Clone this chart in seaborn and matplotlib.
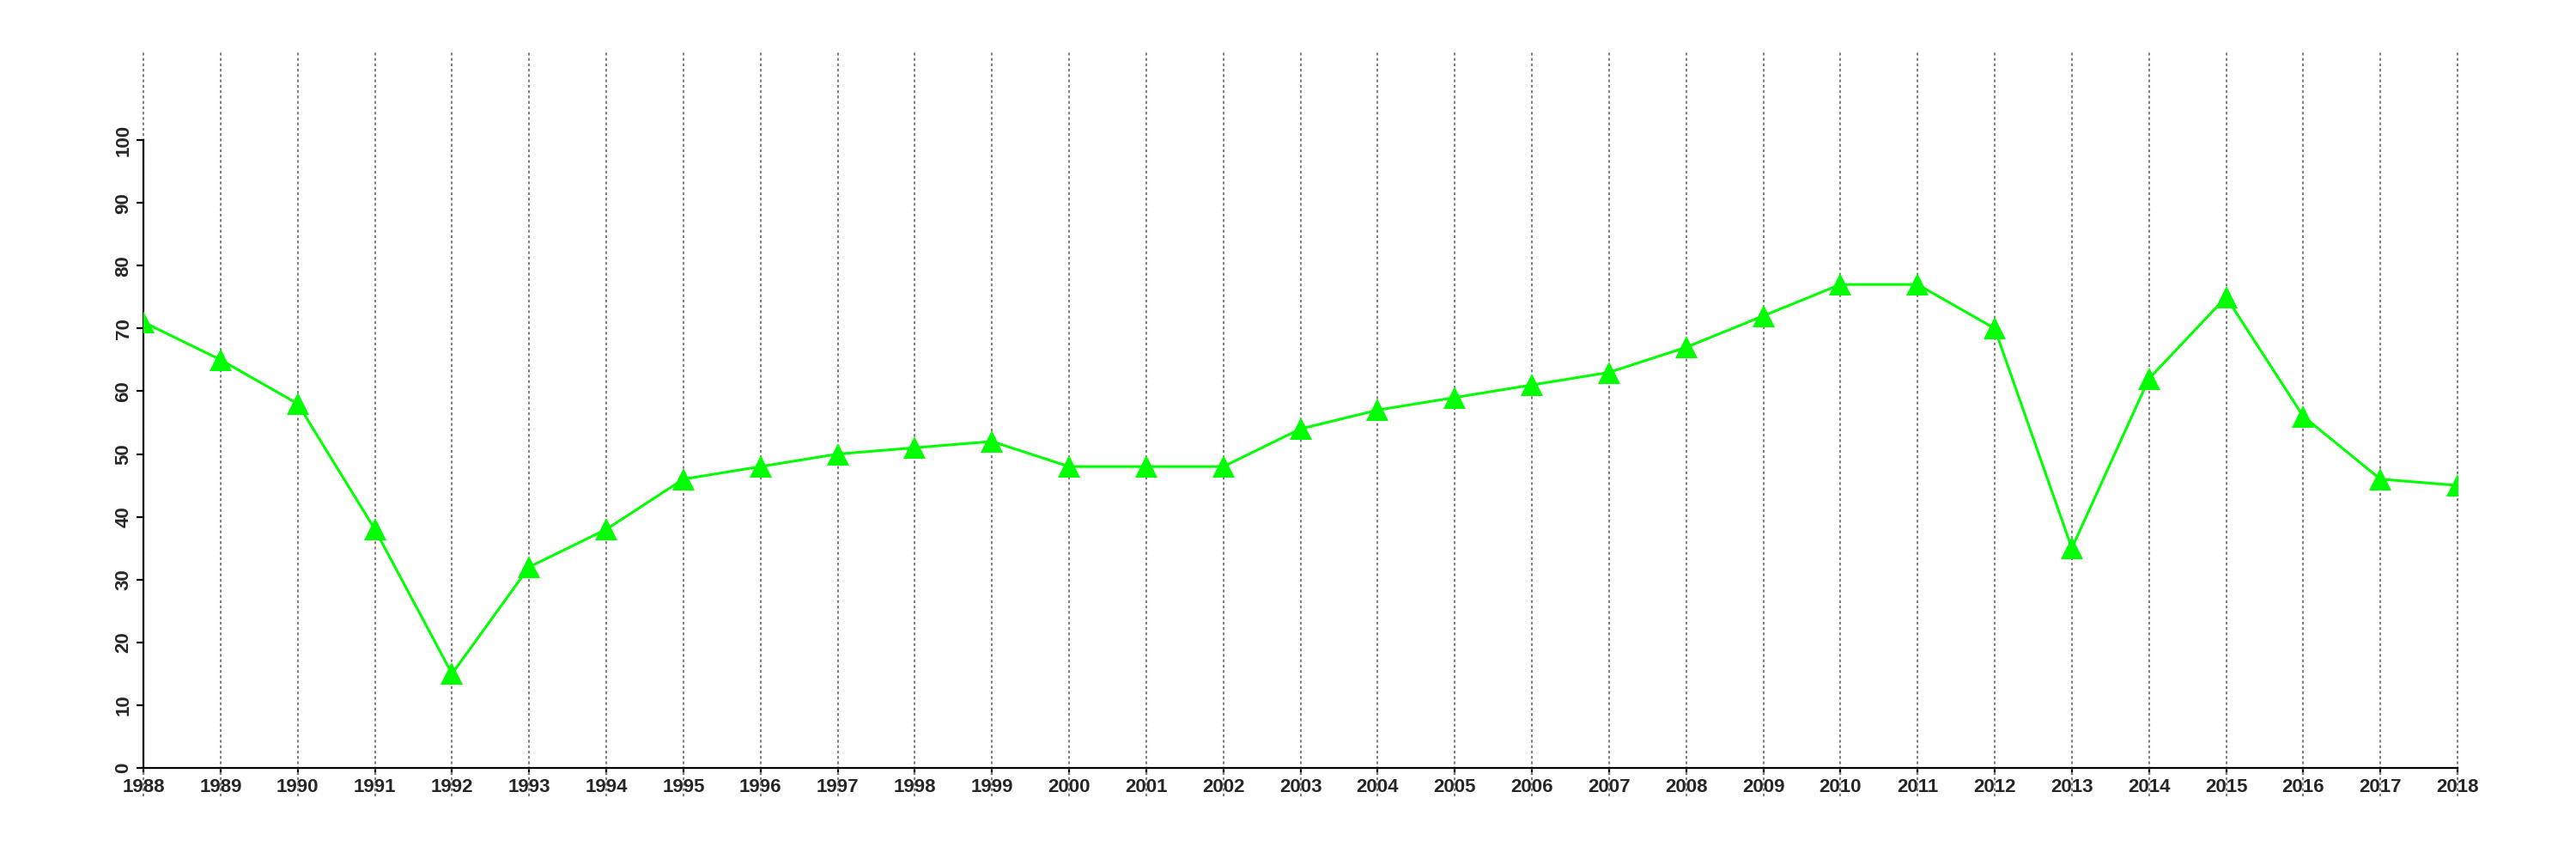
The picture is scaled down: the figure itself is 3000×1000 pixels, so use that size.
import matplotlib
matplotlib.use("Agg")
import matplotlib.pyplot as plt
import seaborn as sns
import pandas as pd

years = list(range(1988, 2019))
values = [71, 65, 58, 38, 15, 32, 38, 46, 48, 50, 51, 52, 48, 48, 48, 54, 57, 59,
          61, 63, 67, 72, 77, 77, 70, 35, 62, 75, 56, 46, 45]
y_ticks = [0, 10, 20, 30, 40, 50, 60, 70, 80, 90, 100]

sns.set_style("white")
plt.rcParams['font.family'] = ['Liberation Sans', 'DejaVu Sans']

fig = plt.figure(figsize=(30, 10), dpi=100)
ax = fig.add_axes([0.0557, 0.106, 0.954 - 0.0557, 0.834])

df = pd.DataFrame({"year": years, "value": values})

for yr in years:
    ax.axvline(yr, ymin=-0.04, ymax=1.0, color="#808080", linestyle=(0, (1.5, 1.5)),
               linewidth=1.5, clip_on=False, zorder=1)

sns.lineplot(data=df, x="year", y="value", ax=ax, color="#00FF00", linewidth=2.2,
             marker="^", markersize=19, markeredgewidth=0, markerfacecolor="#00FF00",
             zorder=3)

ax.set_xlim(1988, 2018)
ax.set_ylim(0, 114.1)
ax.set_xticks(years)
ax.set_xticklabels([str(y) for y in years])
ax.set_yticks(y_ticks)
ax.set_yticklabels([str(v) for v in y_ticks], rotation=90, va="center")
ax.set_xlabel("")
ax.set_ylabel("")

for s in ["top", "right"]:
    ax.spines[s].set_visible(False)
ax.spines["left"].set_bounds(0, 100)
ax.spines["bottom"].set_bounds(1988, 2018)
for s in ["left", "bottom"]:
    ax.spines[s].set_color("black")
    ax.spines[s].set_linewidth(1.6)

ax.tick_params(axis="both", which="major", length=6, width=1.6, color="black",
               labelsize=16, pad=3, bottom=True, left=True)
for lab in ax.get_xticklabels() + ax.get_yticklabels():
    lab.set_fontweight("bold")
ax.grid(False)

fig.savefig("out.png", dpi=100)
